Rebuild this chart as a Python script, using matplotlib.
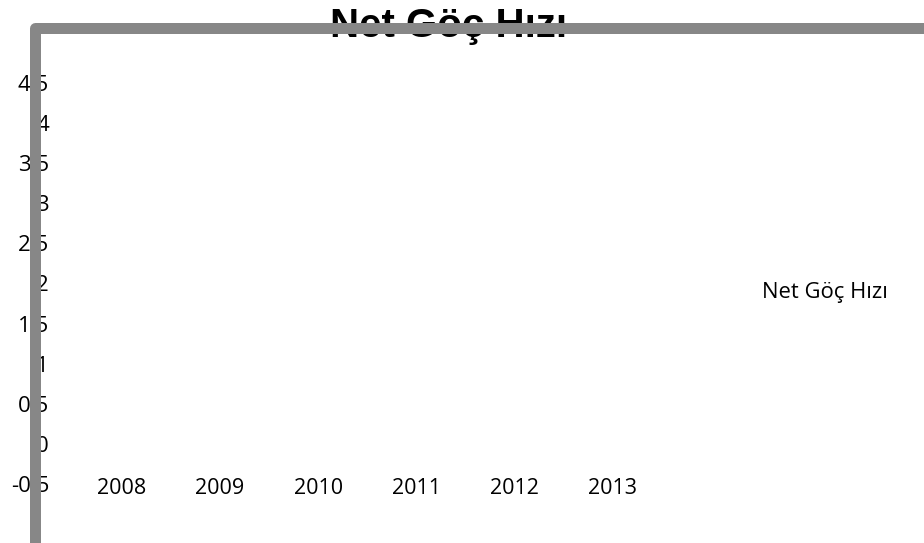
import matplotlib.pyplot as plt
from matplotlib.lines import Line2D

years = ["2008", "2009", "2010", "2011", "2012", "2013"]
net_goc = [None, None, None, None, None, None]  # no visible values in the chart
y_ticks = [-0.5, 0, 0.5, 1, 1.5, 2, 2.5, 3, 3.5, 4, 4.5]
y_labels = ["-0.5", "0", "0.5", "1", "1.5", "2", "2.5", "3", "3.5", "4", "4.5"]

W, H = 924, 543
fig = plt.figure(figsize=(W / 100, H / 100), dpi=100)

# plot area in pixels: left 40, right 924, top 34, bottom 543
ax = fig.add_axes([40 / W, 0, 884 / W, 509 / H])
ax.set_ylim(-1.236, 5.11)
ax.set_xlim(-0.837, 8.18)

x = list(range(len(years)))
vals = [float("nan") if v is None else v for v in net_goc]
ax.plot(x, vals, label="Net Göç Hızı")

for s in ax.spines.values():
    s.set_visible(False)
ax.spines["bottom"].set_position(("data", -0.5))

ax.set_yticks(y_ticks)
ax.set_yticklabels(y_labels, fontfamily="Open Sans", fontsize=16)
ax.set_xticks(x)
ax.set_xticklabels(years, fontfamily="Open Sans", fontsize=15.5)
ax.tick_params(axis="y", length=0, pad=-6.5)
ax.tick_params(axis="x", length=0, pad=-4.5)

leg = ax.legend(loc="center", bbox_to_anchor=(0.888, 0.493), frameon=False,
                handlelength=0, handletextpad=0,
                prop={"family": "Open Sans", "size": 15.8})
for h in leg.legend_handles:
    h.set_visible(False)

fig.text(449 / W, 1 - 26 / H, "Net Göç Hızı", ha="center", va="center",
         fontsize=29, fontweight="bold", family="Liberation Sans", zorder=1)

# thick grey frame line drawn over the title and labels
frame = Line2D([34.5, 34.5, 930], [-10, H - 28, H - 28], color="#878787",
               linewidth=11 * 0.72, solid_joinstyle="round",
               solid_capstyle="butt", transform=None, zorder=5)
fig.add_artist(frame)

fig.savefig("out.png", dpi=100)
